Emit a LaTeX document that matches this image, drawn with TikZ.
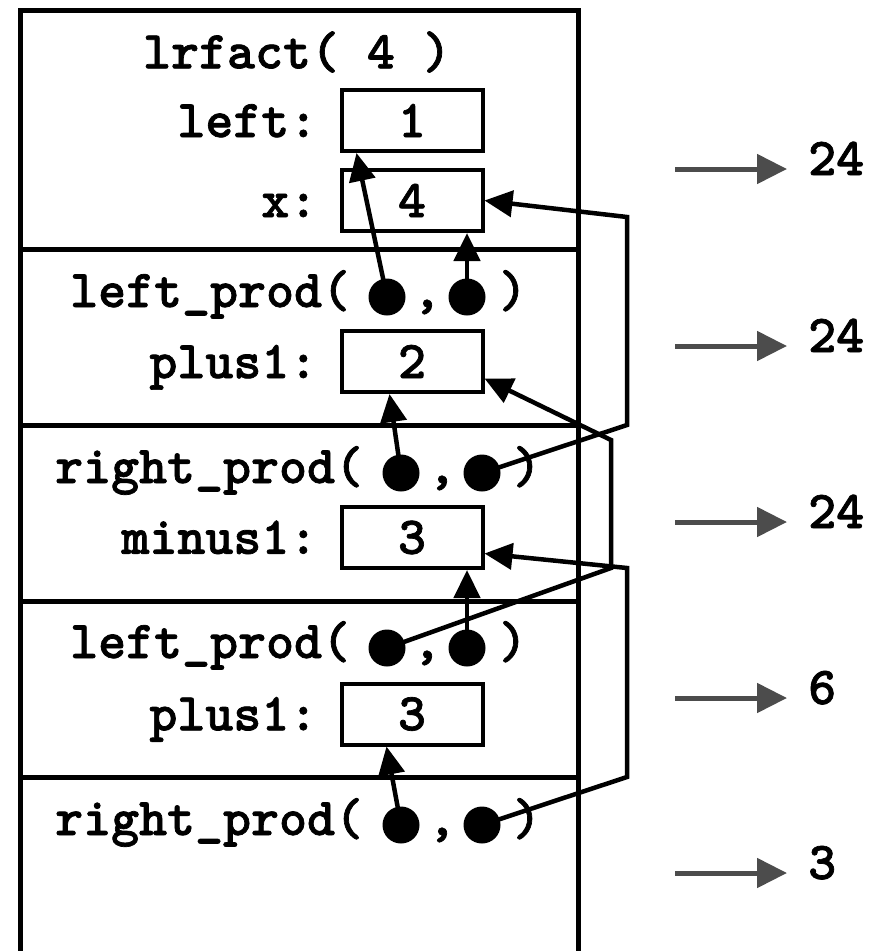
\documentclass[tikz,border=0pt]{standalone}
\usepackage{fontspec}
\newfontfamily\codefont{lmmonolt10-bold.otf}[FakeBold=1.3]
\usetikzlibrary{arrows.meta,positioning}
\definecolor{resgray}{gray}{0.3}
\tikzset{
  code/.style={font=\fontsize{53.3}{56}\selectfont\codefont,inner sep=0pt},
  valbox/.style={code,draw,line width=4pt,minimum width=141pt,minimum height=61pt},
  frameline/.style={line width=5pt},
  argdot/.style={circle,fill=black,minimum size=37pt,inner sep=0pt},
  ptr/.style={-{Triangle[length=28pt,width=26pt]},line width=4.5pt},
  resarrow/.style={-{Triangle[length=30pt,width=29pt]},line width=5pt,color=resgray}
}

\begin{document}
\begin{tikzpicture}[x=1pt,y=-1pt]
  \useasboundingbox (0,0) rectangle (871,951);

  % stack frames
  \draw[frameline] (20,951) -- (20,10) -- (578,10) -- (578,951);
  \draw[frameline] (20,249) -- (578,249);
  \draw[frameline] (20,425) -- (578,425);
  \draw[frameline] (20,601) -- (578,601);
  \draw[frameline] (20,777) -- (578,777);

  % lrfact( 4 )
  \node[code] (title) at (297,52) {lrfact( 4 )};
  \node[valbox] (vleft) at (412,120.5) {1};
  \node[valbox] (vx) at (412,200.5) {4};
  \node[code,anchor=base east] (lleft) at ([xshift=-22pt]vleft.base west) {left:};
  \node[code,anchor=base east] (lx) at ([xshift=-22pt]vx.base west) {x:};

  % left_prod
  \node[code,anchor=base west] (lp1) at (70,307) {left\_prod(};
  \node[argdot] (lp1a) at (387,297) {};
  \node[argdot] (lp1b) at (467,297) {};
  \node[code,anchor=base] (lp1c) at (427,307) {,};
  \node[code,anchor=base] (lp1e) at (513,307) {)};
  \node[valbox] (plus1a) at (412,361.5) {2};
  \node[code,anchor=base east] (lplus1a) at ([xshift=-22pt]plus1a.base west) {plus1:};

  % right_prod
  \node[code,anchor=base west] (rp1) at (55,483) {right\_prod(};
  \node[argdot] (rp1a) at (401,473) {};
  \node[argdot] (rp1b) at (482,473) {};
  \node[code,anchor=base] (rp1c) at (442,483) {,};
  \node[code,anchor=base] (rp1e) at (527,483) {)};
  \node[valbox] (minus1) at (412,537.5) {3};
  \node[code,anchor=base east] (lminus1) at ([xshift=-22pt]minus1.base west) {minus1:};

  % left_prod
  \node[code,anchor=base west] (lp2) at (70,658) {left\_prod(};
  \node[argdot] (lp2a) at (387,648) {};
  \node[argdot] (lp2b) at (467,648) {};
  \node[code,anchor=base] (lp2c) at (427,658) {,};
  \node[code,anchor=base] (lp2e) at (513,658) {)};
  \node[valbox] (plus1b) at (412,714) {3};
  \node[code,anchor=base east] (lplus1b) at ([xshift=-22pt]plus1b.base west) {plus1:};

  % right_prod
  \node[code,anchor=base west] (rp2) at (55,835) {right\_prod(};
  \node[argdot] (rp2a) at (401,825) {};
  \node[argdot] (rp2b) at (482,825) {};
  \node[code,anchor=base] (rp2c) at (442,835) {,};
  \node[code,anchor=base] (rp2e) at (527,835) {)};

  % pointers
  \draw[ptr] (lp1a.center) -- ([xshift=17pt]vleft.south west);
  \draw[ptr] (lp1b.center) -- (lp1b |- vx.south);
  \draw[ptr] (rp1a.center) -- ([xshift=50pt]plus1a.south west);
  \draw[ptr] (rp1b.center) -- (627,425) -- (627,217) -- (vx.east);
  \draw[ptr] (lp2a.center) -- (611,568) -- (611,440) -- ([yshift=-17pt]plus1a.east);
  \draw[ptr] (lp2b.center) -- (lp2b |- minus1.south);
  \draw[ptr] (rp2b.center) -- (627,777) -- (627,568) -- ([yshift=-16pt]minus1.east);
  \draw[ptr] (rp2a.center) -- ([xshift=47pt]plus1b.south west);

  % results
  \coordinate (out1) at (675,169);
  \coordinate (out2) at (675,346);
  \coordinate (out3) at (675,522);
  \coordinate (out4) at (675,698);
  \coordinate (out5) at (675,873);
  \node[code,anchor=base west] (res1) at (808,175) {24};
  \node[code,anchor=base west] (res2) at (808,352) {24};
  \node[code,anchor=base west] (res3) at (808,528) {24};
  \node[code,anchor=base west] (res4) at (808,704) {6};
  \node[code,anchor=base west] (res5) at (808,879) {3};
  \draw[resarrow] (out1) -- ++(112,0);
  \draw[resarrow] (out2) -- ++(112,0);
  \draw[resarrow] (out3) -- ++(112,0);
  \draw[resarrow] (out4) -- ++(112,0);
  \draw[resarrow] (out5) -- ++(112,0);
\end{tikzpicture}
\end{document}
